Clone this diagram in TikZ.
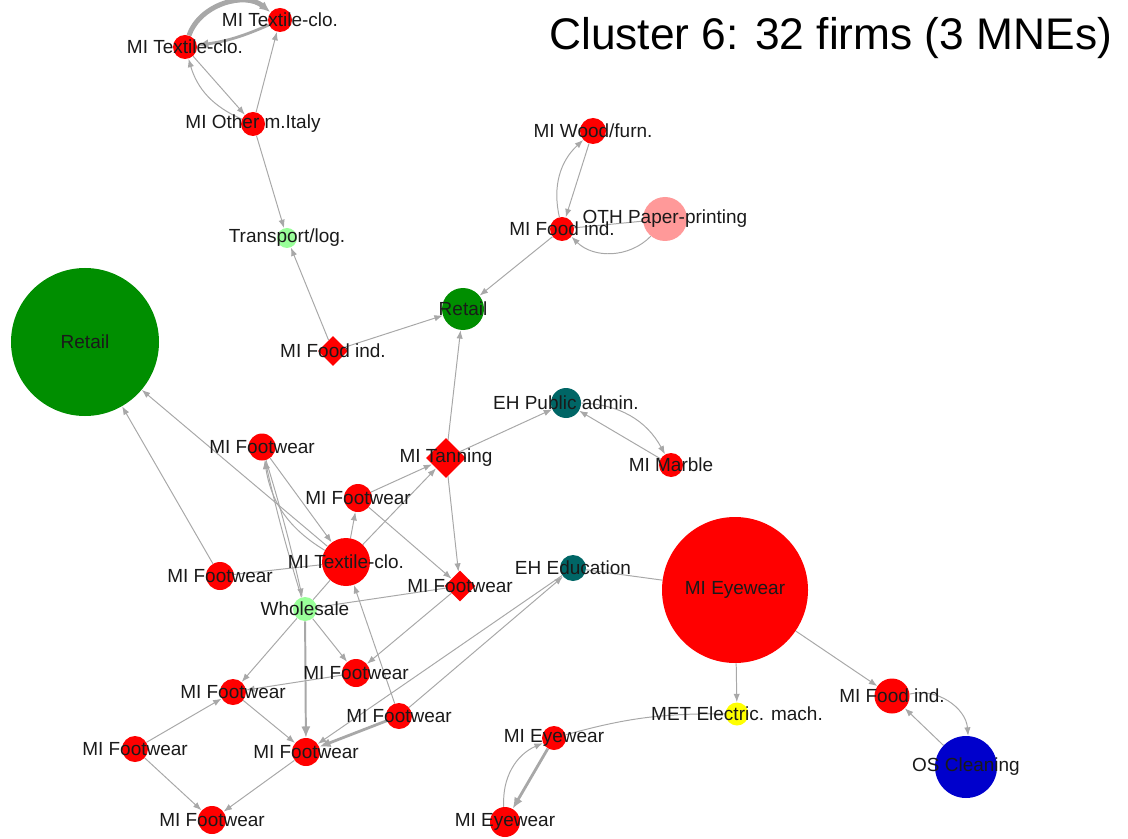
\documentclass[tikz,border=0pt]{standalone}
\usepackage{fontspec}
\setmainfont{Liberation Sans}
\usetikzlibrary{shapes.geometric,arrows.meta,backgrounds}
\definecolor{firmred}{HTML}{FF0000}
\definecolor{retgreen}{HTML}{008E00}
\definecolor{lightgreen}{HTML}{99FF99}
\definecolor{ehteal}{HTML}{006666}
\definecolor{othpink}{HTML}{FF9999}
\definecolor{metyellow}{HTML}{FFFF00}
\definecolor{osblue}{HTML}{0000CC}
\definecolor{tiegray}{HTML}{A8A8A8}
\definecolor{labelgray}{HTML}{1A1A1A}

\begin{document}
\begin{tikzpicture}[x=0.025cm,y=-0.025cm,
    firm/.style={circle,fill=#1,inner sep=0pt},
    mne/.style={diamond,fill=firmred,inner sep=0pt},
    px/.style={minimum size=#1*0.025cm},
    every label/.append style={font=\fontsize{13.5}{14}\selectfont,text=labelgray,inner sep=0pt},
    tie/.style={draw=tiegray,line width=0.7pt,-{Latex[length=6pt,width=4.5pt]}},
    bare/.style={draw=tiegray,line width=0.7pt},
    heavy/.style={draw=tiegray,line width=#1,-{Latex[length=8pt,width=6.5pt]}}]
  \useasboundingbox (0,0) rectangle (1128,839);

  \node[anchor=base east,font=\fontsize{31.5}{32}\selectfont] (title) at (1117,50) {Cluster 6: 32 firms (3 MNEs)};

  \node[firm=firmred,px=24,label=center:MI Textile-clo.] (tc1) at (185,47) {};
  \node[firm=firmred,px=24,label=center:MI Textile-clo.] (tc2) at (280,20) {};
  \node[firm=firmred,px=24,label=center:MI Other m.Italy] (oth) at (253,124) {};
  \node[firm=lightgreen,px=20,label=center:Transport/log.] (trans) at (287,238) {};
  \node[mne,px=30,label=center:MI Food ind.] (food1) at (333,351) {};
  \node[firm=retgreen,px=42,label=center:Retail] (rets) at (463,309) {};
  \node[firm=retgreen,px=148,label=center:Retail] (retb) at (85,342) {};
  \node[firm=firmred,px=26,label=center:MI Wood/furn.] (wood) at (593,131) {};
  \node[firm=firmred,px=24,label=center:MI Food ind.] (food2) at (562,229) {};
  \node[firm=othpink,px=44,label=center:OTH Paper-printing] (paper) at (665,219) {};
  \node[firm=ehteal,px=30,label=center:EH Public admin.] (pub) at (566,403) {};
  \node[firm=firmred,px=24,label=center:MI Marble] (marble) at (671,465) {};
  \node[mne,px=40,label=center:MI Tanning] (tan) at (446,458) {};
  \node[firm=firmred,px=27,label=center:MI Footwear] (fwa) at (262,447) {};
  \node[firm=firmred,px=28,label=center:MI Footwear] (fwb) at (358,498) {};
  \node[firm=firmred,px=48,label=center:MI Textile-clo.] (tc3) at (346,562) {};
  \node[firm=firmred,px=28,label=center:MI Footwear] (fwc) at (220,576) {};
  \node[mne,px=31,label=center:MI Footwear] (fwd) at (460,586) {};
  \node[firm=ehteal,px=26,label=center:EH Education] (edu) at (573,568) {};
  \node[firm=firmred,px=146,label=center:MI Eyewear] (eye) at (735,590) {};
  \node[firm=lightgreen,px=24,label=center:Wholesale] (whole) at (305,609) {};
  \node[firm=firmred,px=28,label=center:MI Footwear] (fwe) at (356,673) {};
  \node[firm=firmred,px=26,label=center:MI Footwear] (fwf) at (233,692) {};
  \node[firm=firmred,px=26,label=center:MI Footwear] (fwg) at (399,716) {};
  \node[firm=firmred,px=28,label=center:MI Footwear] (fwh) at (306,752) {};
  \node[firm=firmred,px=26,label=center:MI Footwear] (fwi) at (135,749) {};
  \node[firm=firmred,px=28,label=center:MI Footwear] (fwj) at (212,820) {};
  \node[firm=metyellow,px=23,label=center:MET Electric. mach.] (met) at (737,714) {};
  \node[firm=firmred,px=24,label=center:MI Eyewear] (eyeb) at (554,738) {};
  \node[firm=firmred,px=30,label=center:MI Eyewear] (eyec) at (505,822) {};
  \node[firm=firmred,px=35,label=center:MI Food ind.] (food3) at (892,696) {};
  \node[firm=osblue,px=62,label=center:OS Cleaning] (clean) at (966,767) {};

  \begin{scope}[on background layer]
    \draw[heavy=3.5pt] (tc1) to[bend left=55] (tc2);
    \draw[heavy=2pt] (tc2) to[bend left=8] (tc1);
    \draw[tie] (tc1) -- (oth);
    \draw[tie] (oth) to[bend left=25] (tc1);
    \draw[tie] (oth) -- (tc2);
    \draw[tie] (oth) -- (trans);
    \draw[tie] (food1) -- (trans);
    \draw[tie] (food1) -- (rets);
    \draw[tie] (food2) -- (rets);
    \draw[tie] (wood) -- (food2);
    \draw[tie] (food2) to[bend left=30] (wood);
    \draw[tie] (paper) to[bend left=45] (food2);
    \draw[bare] (food2) -- (paper);
    \draw[tie] (tan) -- (rets);
    \draw[tie] (tan) -- (pub);
    \draw[tie] (marble) -- (pub);
    \draw[tie] (pub) to[bend left=30] (marble);
    \draw[tie] (tan) -- (fwd);
    \draw[tie] (fwb) -- (tan);
    \draw[tie] (tc3) -- (tan);
    \draw[tie] (fwb) -- (fwd);
    \draw[tie] (tc3) -- (fwb);
    \draw[tie] (fwa) -- (tc3);
    \draw[tie] (tc3) to[bend left=25] (fwa);
    \draw[tie] (fwa) to[bend left=2] (whole);
    \draw[tie] (whole) to[bend left=2] (fwa);
    \draw[tie] (tc3) -- (retb);
    \draw[tie] (fwc) -- (retb);
    \draw[bare] (fwc) -- (tc3);
    \draw[bare] (tc3) -- (whole);
    \draw[bare] (whole) -- (fwd);
    \draw[tie] (fwg) -- (tc3);
    \draw[tie] (fwd) -- (fwe);
    \draw[tie] (whole) -- (fwe);
    \draw[tie] (whole) -- (fwf);
    \draw[heavy=1.4pt] (whole) -- (fwh);
    \draw[tie] (fwe) -- (fwf);
    \draw[tie] (fwf) -- (fwh);
    \draw[tie] (fwi) -- (fwf);
    \draw[tie] (fwi) -- (fwj);
    \draw[tie] (fwh) -- (fwj);
    \draw[heavy=2pt] (fwg) -- (fwh);
    \draw[tie] (fwg) -- (edu);
    \draw[tie] (edu) -- (fwh);
    \draw[bare] (edu) -- (eye);
    \draw[tie] (eye) -- (met);
    \draw[tie] (eye) -- (food3);
    \draw[bare] (met) to[bend right=8] (eyeb);
    \draw[heavy=2pt] (eyeb) -- (eyec);
    \draw[tie] (eyec) to[bend left=35] (eyeb);
    \draw[tie] (food3) to[bend left=50] (clean);
    \draw[tie] (clean) -- (food3);
  \end{scope}
\end{tikzpicture}
\end{document}
